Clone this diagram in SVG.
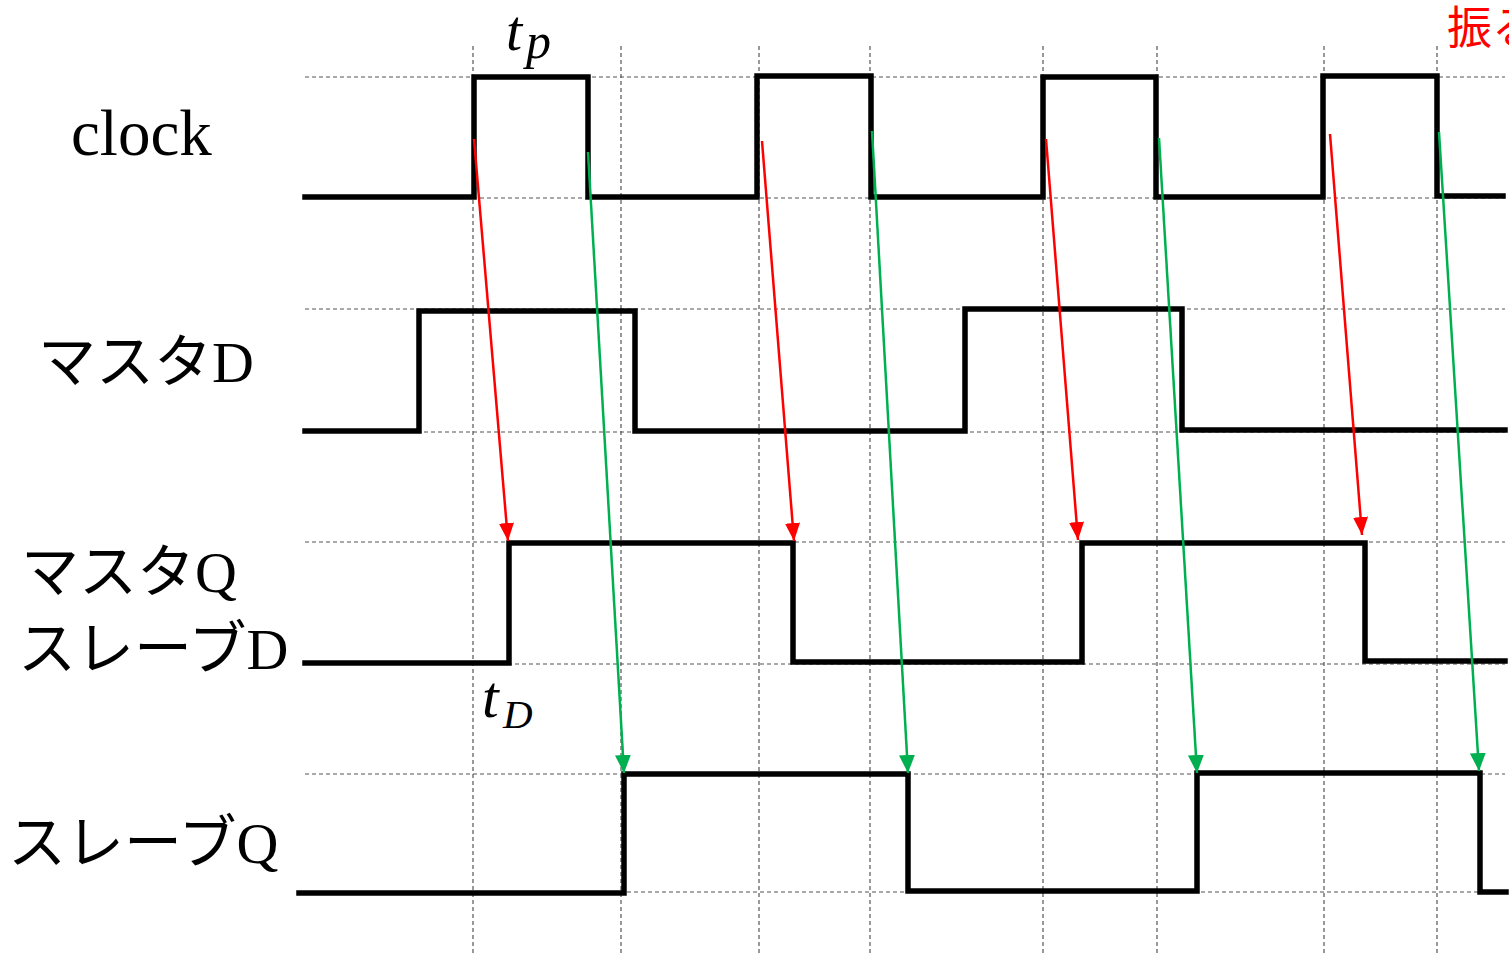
<svg xmlns="http://www.w3.org/2000/svg" width="1509" height="959" viewBox="0 0 1509 959">
<style>
.grid{stroke:#555;stroke-width:1.2;stroke-dasharray:4 3;fill:none}
.wave{stroke:#000;stroke-width:5.5;fill:none;stroke-linejoin:miter;stroke-linecap:square}
.lbl{font-family:"Liberation Serif","Noto Sans CJK JP",serif;font-size:58px;fill:#000}
.math{font-family:"Liberation Serif",serif;font-style:italic;fill:#000}
.red{stroke:#ff0000;stroke-width:2.5;fill:none}
.green{stroke:#00b050;stroke-width:2.5;fill:none}
</style>
<defs>
<marker id="ar" markerUnits="userSpaceOnUse" markerWidth="19" markerHeight="16" refX="18" refY="7.5" orient="auto">
<path d="M0,0 L18,7.5 L0,15 z" fill="#ff0000"/>
</marker>
<marker id="ag" markerUnits="userSpaceOnUse" markerWidth="19" markerHeight="17" refX="18" refY="8" orient="auto">
<path d="M0,0 L18,8 L0,16 z" fill="#00b050"/>
</marker>
</defs>
<rect width="1509" height="959" fill="#fff"/>
<g id="grid">
<path class="grid" d="M473,46 V955 M621,46 V955 M759,46 V955 M870,46 V955 M1043,46 V955 M1157,46 V955 M1324,46 V955 M1437,46 V955"/>
<path class="grid" d="M305,77 H1505 M305,198 H1505 M305,309 H1505 M305,432 H1505 M305,542 H1505 M305,664 H1505 M305,774 H1505 M305,892 H1505"/>
</g>
<g id="clock">
<path class="wave" d="M305,197 H474 V77 H588 V197 H757 V76 H871 V197 H1043 V77 H1156 V197 H1323 V76 H1437 V196 H1503"/>
<text class="lbl" x="71" y="155" style="font-size:65px">clock</text>
</g>
<g id="masterD">
<path class="wave" d="M305,431 H419 V311 H635 V431 H965 V309 H1182 V430 H1505"/>
<text class="lbl" x="38" y="382">マスタD</text>
</g>
<g id="masterQ_slaveD">
<path class="wave" d="M305,663 H509 V543 H793 V662 H1082 V543 H1365 V661 H1505"/>
<text class="lbl" x="21" y="592">マスタQ</text>
<text class="lbl" x="18" y="669">スレーブD</text>
</g>
<g id="slaveQ">
<path class="wave" d="M299,893 H624 V774 H908 V891 H1197 V773 H1480 V892 H1506"/>
<text class="lbl" x="8" y="863">スレーブQ</text>
</g>
<g id="tp">
<text class="math" x="506" y="50" font-size="58">t</text>
<text class="math" x="526" y="58" font-size="50">p</text>
</g>
<g id="tD">
<text class="math" x="482" y="717" font-size="60">t</text>
<text class="math" x="503" y="728" font-size="41">D</text>
</g>
<g id="note">
<text x="1447" y="44" font-family="'Noto Sans CJK JP',sans-serif" font-size="45" fill="#ff0000">振る</text>
</g>
<g id="connectors">
<line class="red" x1="474" y1="139" x2="508" y2="541" marker-end="url(#ar)"/>
<line class="red" x1="762" y1="141" x2="794" y2="541" marker-end="url(#ar)"/>
<line class="red" x1="1046" y1="139" x2="1078" y2="540" marker-end="url(#ar)"/>
<line class="red" x1="1330" y1="134" x2="1362" y2="535" marker-end="url(#ar)"/>
<line class="green" x1="588" y1="152" x2="624" y2="773" marker-end="url(#ag)"/>
<line class="green" x1="872" y1="131" x2="908" y2="773" marker-end="url(#ag)"/>
<line class="green" x1="1159" y1="138" x2="1197" y2="773" marker-end="url(#ag)"/>
<line class="green" x1="1439" y1="132" x2="1479" y2="771" marker-end="url(#ag)"/>
</g>
</svg>
